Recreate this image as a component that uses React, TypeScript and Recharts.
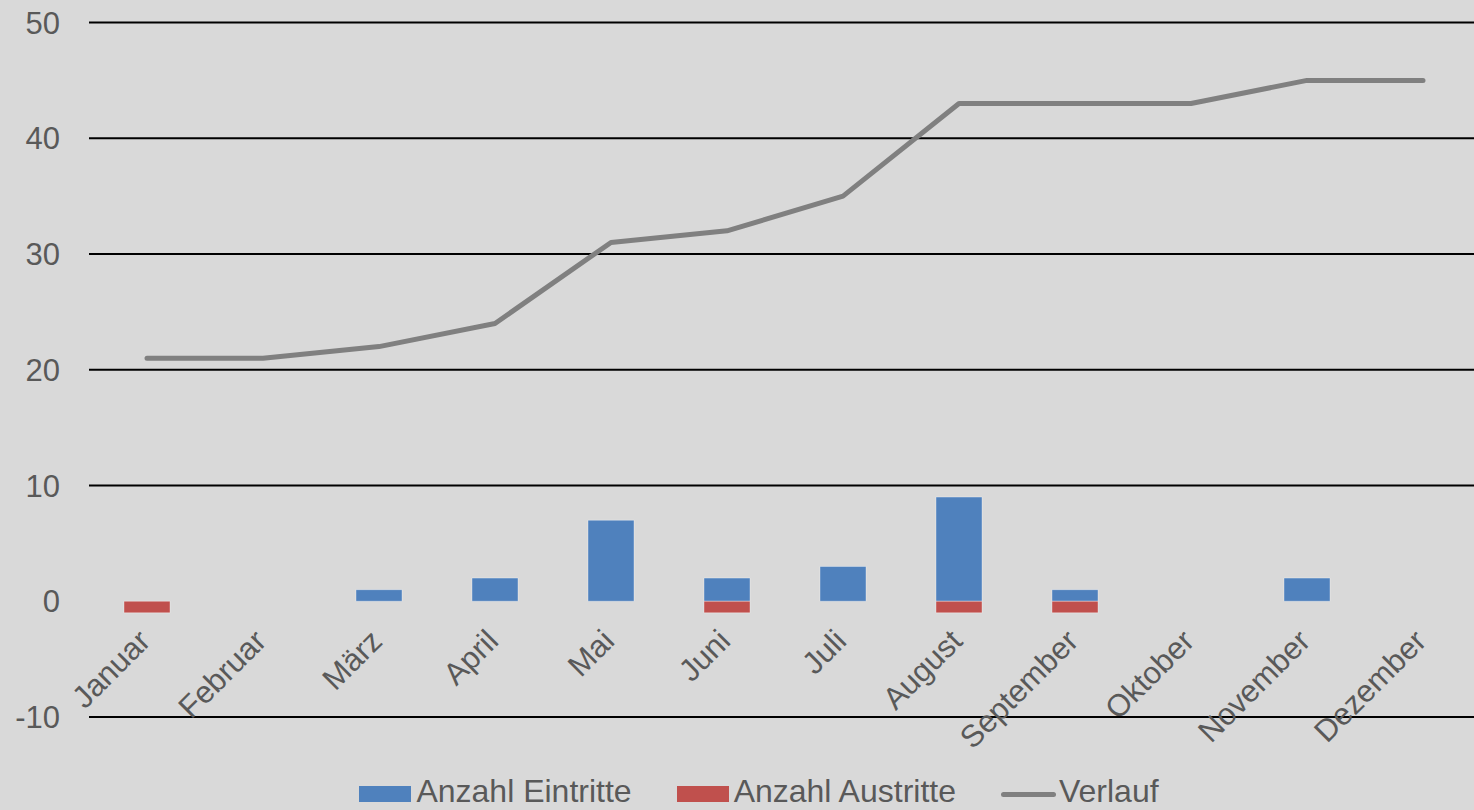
import React from 'react';
import { ComposedChart, Bar, Line, XAxis, YAxis, ReferenceLine, Legend } from 'recharts';

const months = ['Januar', 'Februar', 'März', 'April', 'Mai', 'Juni', 'Juli', 'August', 'September', 'Oktober', 'November', 'Dezember'];
const eintritte = [0, 0, 1, 2, 7, 2, 3, 9, 1, 0, 2, 0];
const austritte = [-1, 0, 0, 0, 0, -1, 0, -1, -1, 0, 0, 0];
const verlauf = [21, 21, 22, 24, 31, 32, 35, 43, 43, 43, 45, 45];
const yTicks = [-10, 0, 10, 20, 30, 40, 50];
const gridValues = [-10, 10, 20, 30, 40, 50];

const data = months.map((m, i) => ({
  month: m,
  eintritte: eintritte[i],
  austritte: austritte[i],
  verlauf: verlauf[i],
}));

const FONT = '"Liberation Sans", Arial, sans-serif';
const TEXT = '#595959';
const BLUE = '#4f81bd';
const RED = '#c0504d';
const GRAY = '#808080';

const XTick = (props: any) => {
  const { x, y, payload } = props;
  const ax = x + 5;
  const ay = y - 74;
  return (
    <text
      x={ax}
      y={ay}
      transform={`rotate(-45, ${ax}, ${ay})`}
      textAnchor="end"
      fill={TEXT}
      fontSize={31}
      fontFamily={FONT}
    >
      {payload.value}
    </text>
  );
};

const LegendContent = () => {
  const items = [
    { label: 'Anzahl Eintritte', kind: 'rect', color: BLUE },
    { label: 'Anzahl Austritte', kind: 'rect', color: RED },
    { label: 'Verlauf', kind: 'line', color: GRAY },
  ];
  return (
    <div style={{ display: 'flex', justifyContent: 'center', alignItems: 'center', height: 30, paddingLeft: 37, fontFamily: FONT, fontSize: 32, color: TEXT }}>
      {items.map((it, i) => (
        <div key={it.label} style={{ display: 'flex', alignItems: 'center', marginRight: i < items.length - 1 ? 45 : 0, lineHeight: '30px', height: 30 }}>
          {it.kind === 'rect' ? (
            <div style={{ width: 52, height: 16, background: it.color, marginRight: 5, marginTop: 6 }} />
          ) : (
            <div style={{ width: 55, height: 5, borderRadius: 3, background: it.color, marginRight: 3, marginTop: 6 }} />
          )}
          <span style={{ whiteSpace: 'nowrap', display: 'inline-block', height: 30, lineHeight: '30px' }}>{it.label}</span>
        </div>
      ))}
    </div>
  );
};

export default function App() {
  return (
    <div style={{ position: 'absolute', left: 0, top: 0, width: 1474, height: 810, overflow: 'hidden', background: '#d9d9d9' }}>
      <ComposedChart
        width={1481}
        height={810}
        data={data}
        stackOffset="sign"
        barGap={0}
        margin={{ top: 22.5, right: 0, left: 0, bottom: 0 }}
      >
        {gridValues.map((v) => (
          <ReferenceLine key={v} y={v} stroke="#000" strokeWidth={2} />
        ))}
        <XAxis
          dataKey="month"
          height={63}
          axisLine={false}
          tickLine={false}
          tickSize={0}
          tickMargin={0}
          interval={0}
          tick={<XTick />}
        />
        <YAxis
          width={89}
          domain={[-10, 50]}
          ticks={yTicks}
          axisLine={false}
          tickLine={false}
          tickSize={0}
          tickMargin={29}
          tick={{ fill: TEXT, fontSize: 31, fontFamily: FONT }}
        />
        <Bar dataKey="eintritte" name="Anzahl Eintritte" stackId="a" fill={BLUE} stroke="#ffffff" strokeOpacity={0.35} strokeWidth={1} barSize={46} isAnimationActive={false} />
        <Bar dataKey="austritte" name="Anzahl Austritte" stackId="a" fill={RED} stroke="#ffffff" strokeOpacity={0.35} strokeWidth={1} barSize={46} isAnimationActive={false} />
        <Line dataKey="verlauf" name="Verlauf" type="linear" stroke={GRAY} strokeWidth={5} strokeLinecap="round" strokeLinejoin="round" dot={false} activeDot={false} isAnimationActive={false} />
        <Legend verticalAlign="bottom" content={<LegendContent />} wrapperStyle={{ height: 30, bottom: 4 }} />
      </ComposedChart>
    </div>
  );
}
